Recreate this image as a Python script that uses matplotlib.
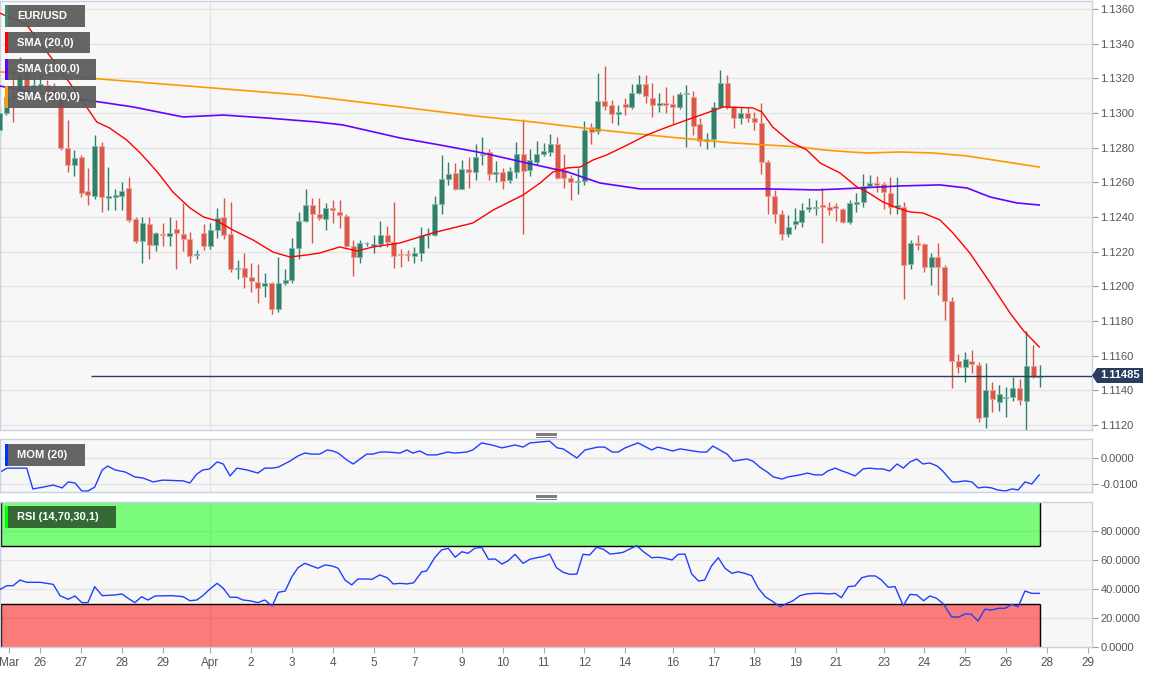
import numpy as np
import matplotlib
matplotlib.use('Agg')
import matplotlib.pyplot as plt
from matplotlib.patches import Rectangle, Polygon
from matplotlib.lines import Line2D

plt.rcParams['font.family'] = ['Liberation Sans', 'DejaVu Sans']

# 4h candles, EUR/USD
opens = [1.12902, 1.13000, 1.13104, 1.13121, 1.13237, 1.13150, 1.13156, 1.13162, 1.13133, 1.13087,
         1.12798, 1.12700, 1.12746, 1.12550, 1.12521, 1.12810, 1.12510, 1.12515, 1.12521, 1.12567,
         1.12388, 1.12261, 1.12360, 1.12238, 1.12302, 1.12290, 1.12331, 1.12302, 1.12273, 1.12181,
         1.12308, 1.12233, 1.12325, 1.12400, 1.12302, 1.12100, 1.12106, 1.12054, 1.12025, 1.12002,
         1.12019, 1.11869, 1.12019, 1.12036, 1.12221, 1.12377, 1.12469, 1.12417, 1.12388, 1.12452,
         1.12429, 1.12406, 1.12233, 1.12169, 1.12247, 1.12233, 1.12244, 1.12296, 1.12256, 1.12186,
         1.12184, 1.12175, 1.12192, 1.12296, 1.12296, 1.12475, 1.12619, 1.12654, 1.12562, 1.12677,
         1.12660, 1.12758, 1.12775, 1.12648, 1.12660, 1.12613, 1.12660, 1.12763, 1.12671, 1.12717,
         1.12763, 1.12775, 1.12821, 1.12671, 1.12625, 1.12602, 1.12608, 1.12919, 1.12896, 1.13069,
         1.13046, 1.12994, 1.13052, 1.13035, 1.13115, 1.13167, 1.13087, 1.13046, 1.13058, 1.13052,
         1.13035, 1.13110, 1.13092, 1.12937, 1.12838, 1.12850, 1.13035, 1.13173, 1.13035, 1.12971,
         1.13000, 1.12971, 1.12942, 1.12717, 1.12521, 1.12417, 1.12302, 1.12360, 1.12371, 1.12446,
         1.12452, 1.12469, 1.12458, 1.12463, 1.12446, 1.12371, 1.12475, 1.12487, 1.12579, 1.12596,
         1.12590, 1.12538, 1.12458, 1.12458, 1.12129, 1.12250, 1.12244, 1.12111, 1.12169, 1.12111,
         1.11915, 1.11569, 1.11534, 1.11569, 1.11546, 1.11246, 1.11402, 1.11333, 1.11358, 1.11361,
         1.11413, 1.11338, 1.11540, 1.11477]
highs = [1.13029, 1.13115, 1.13260, 1.13323, 1.13265, 1.13219, 1.13219, 1.13190, 1.13173, 1.13133,
         1.12960, 1.12787, 1.12758, 1.12683, 1.12873, 1.12833, 1.12688, 1.12562, 1.12602, 1.12631,
         1.12400, 1.12400, 1.12400, 1.12313, 1.12365, 1.12400, 1.12383, 1.12481, 1.12313, 1.12210,
         1.12360, 1.12365, 1.12452, 1.12510, 1.12487, 1.12152, 1.12192, 1.12135, 1.12129, 1.12077,
         1.12025, 1.12169, 1.12100, 1.12279, 1.12429, 1.12562, 1.12510, 1.12510, 1.12481, 1.12498,
         1.12498, 1.12417, 1.12267, 1.12267, 1.12256, 1.12296, 1.12377, 1.12348, 1.12487, 1.12215,
         1.12210, 1.12227, 1.12342, 1.12336, 1.12521, 1.12758, 1.12717, 1.12711, 1.12729, 1.12746,
         1.12821, 1.12862, 1.12792, 1.12723, 1.12683, 1.12688, 1.12833, 1.12965, 1.12792, 1.12838,
         1.12827, 1.12879, 1.12862, 1.12763, 1.12642, 1.12683, 1.12954, 1.12942, 1.13231, 1.13271,
         1.13075, 1.13046, 1.13087, 1.13167, 1.13219, 1.13219, 1.13173, 1.13115, 1.13150, 1.13104,
         1.13121, 1.13162, 1.13127, 1.12971, 1.12885, 1.13063, 1.13248, 1.13219, 1.13040, 1.13029,
         1.13029, 1.13006, 1.13058, 1.12729, 1.12556, 1.12440, 1.12412, 1.12452, 1.12481, 1.12510,
         1.12498, 1.12567, 1.12487, 1.12481, 1.12452, 1.12498, 1.12538, 1.12648, 1.12642, 1.12637,
         1.12602, 1.12631, 1.12631, 1.12487, 1.12267, 1.12296, 1.12250, 1.12192, 1.12250, 1.12123,
         1.11938, 1.11609, 1.11621, 1.11633, 1.11563, 1.11557, 1.11448, 1.11431, 1.11419, 1.11477,
         1.11465, 1.11742, 1.11661, 1.11546]
lows = [1.12873, 1.12988, 1.12948, 1.13115, 1.13121, 1.13133, 1.13133, 1.13115, 1.13035, 1.12787,
        1.12660, 1.12637, 1.12515, 1.12469, 1.12504, 1.12429, 1.12440, 1.12440, 1.12440, 1.12371,
        1.12250, 1.12135, 1.12158, 1.12204, 1.12233, 1.12233, 1.12100, 1.12204, 1.12135, 1.12158,
        1.12210, 1.12215, 1.12279, 1.12273, 1.12083, 1.12042, 1.11990, 1.11967, 1.11904, 1.11938,
        1.11840, 1.11852, 1.12008, 1.12019, 1.12158, 1.12371, 1.12250, 1.12383, 1.12325, 1.12365,
        1.12336, 1.12227, 1.12060, 1.12135, 1.12233, 1.12192, 1.12227, 1.12227, 1.12106, 1.12111,
        1.12146, 1.12135, 1.12146, 1.12221, 1.12290, 1.12417, 1.12585, 1.12556, 1.12562, 1.12567,
        1.12613, 1.12700, 1.12613, 1.12602, 1.12562, 1.12596, 1.12625, 1.12302, 1.12637, 1.12700,
        1.12752, 1.12752, 1.12619, 1.12567, 1.12498, 1.12533, 1.12585, 1.12821, 1.12879, 1.13017,
        1.12942, 1.12931, 1.12988, 1.13023, 1.13110, 1.13058, 1.12977, 1.13006, 1.13000, 1.12936,
        1.13023, 1.12804, 1.12873, 1.12810, 1.12792, 1.12804, 1.13029, 1.13023, 1.12913, 1.12936,
        1.12948, 1.12902, 1.12648, 1.12417, 1.12365, 1.12267, 1.12284, 1.12331, 1.12342, 1.12429,
        1.12412, 1.12250, 1.12412, 1.12377, 1.12365, 1.12360, 1.12429, 1.12458, 1.12573, 1.12544,
        1.12446, 1.12417, 1.12417, 1.11927, 1.12100, 1.12210, 1.12083, 1.12008, 1.11950, 1.11806,
        1.11413, 1.11500, 1.11448, 1.11500, 1.11217, 1.11182, 1.11275, 1.11281, 1.11246, 1.11338,
        1.11315, 1.11165, 1.11471, 1.11419]
closes = [1.13000, 1.13092, 1.13087, 1.13219, 1.13150, 1.13162, 1.13165, 1.13133, 1.13115, 1.12798,
          1.12700, 1.12740, 1.12538, 1.12527, 1.12810, 1.12515, 1.12521, 1.12527, 1.12550, 1.12383,
          1.12261, 1.12365, 1.12238, 1.12308, 1.12296, 1.12308, 1.12308, 1.12273, 1.12175, 1.12186,
          1.12233, 1.12325, 1.12394, 1.12296, 1.12100, 1.12106, 1.12054, 1.12031, 1.11990, 1.12019,
          1.11869, 1.12019, 1.12036, 1.12221, 1.12377, 1.12469, 1.12417, 1.12394, 1.12452, 1.12440,
          1.12412, 1.12233, 1.12169, 1.12250, 1.12250, 1.12244, 1.12296, 1.12256, 1.12175, 1.12181,
          1.12178, 1.12192, 1.12296, 1.12302, 1.12475, 1.12619, 1.12648, 1.12562, 1.12677, 1.12660,
          1.12746, 1.12763, 1.12648, 1.12660, 1.12608, 1.12665, 1.12763, 1.12665, 1.12729, 1.12763,
          1.12781, 1.12821, 1.12625, 1.12625, 1.12602, 1.12608, 1.12902, 1.12890, 1.13069, 1.13040,
          1.12994, 1.13006, 1.13035, 1.13115, 1.13167, 1.13098, 1.13046, 1.13058, 1.13046, 1.13035,
          1.13110, 1.13115, 1.12925, 1.12838, 1.12850, 1.13035, 1.13173, 1.13035, 1.12971, 1.13000,
          1.12971, 1.12948, 1.12717, 1.12521, 1.12417, 1.12302, 1.12342, 1.12377, 1.12440, 1.12458,
          1.12455, 1.12458, 1.12440, 1.12452, 1.12371, 1.12481, 1.12487, 1.12579, 1.12596, 1.12585,
          1.12544, 1.12458, 1.12469, 1.12123, 1.12250, 1.12238, 1.12111, 1.12169, 1.12111, 1.11915,
          1.11569, 1.11534, 1.11581, 1.11552, 1.11240, 1.11402, 1.11350, 1.11379, 1.11361, 1.11413,
          1.11344, 1.11540, 1.11477, 1.11485]
last_price = 1.11485

# moving averages, read at candle positions
sma20_x = [0, 4, 6.4, 8.2, 10, 11.8, 14.3, 16.2, 18.7, 20.7, 23.2, 25.5, 28, 30, 32, 34.3, 37.3, 40.2,
           42.7, 45.2, 47.1, 50, 52.6, 54.9, 58.9, 63.7, 69.6, 72.6, 77, 79.5, 81.4, 83.5, 85.4, 87.3,
           89.3, 92.3, 95.2, 98.2, 101.1, 104, 106.4, 110.8, 112.1, 113.7, 116.3, 118.7, 120.7, 123.6,
           126.1, 127.6, 129.9, 132, 133.9, 135.8, 138.3, 140.2, 142.7, 145.7, 148.6, 150.5, 152.9]
sma20_v = [1.13577, 1.13508, 1.13381, 1.13288, 1.13190, 1.13092, 1.12948, 1.12913, 1.12844, 1.12769,
           1.12660, 1.12544, 1.12452, 1.12400, 1.12377, 1.12325, 1.12267, 1.12198, 1.12169, 1.12181,
           1.12192, 1.12227, 1.12204, 1.12227, 1.12250, 1.12308, 1.12365, 1.12440, 1.12527, 1.12596,
           1.12660, 1.12683, 1.12688, 1.12729, 1.12758, 1.12815, 1.12873, 1.12919, 1.12960, 1.13000,
           1.13035, 1.13029, 1.13006, 1.12919, 1.12833, 1.12787, 1.12711, 1.12654, 1.12573, 1.12544,
           1.12487, 1.12452, 1.12429, 1.12423, 1.12383, 1.12308, 1.12192, 1.12019, 1.11846, 1.11748,
           1.11650]
sma100_x = [0, 3, 7.4, 14.8, 19.6, 27, 32.9, 39.3, 46.7, 50.5, 58.9, 64.8, 71.1, 77.6, 83.5, 88.3,
            94.2, 103, 112.9, 120.2, 126.5, 132.4, 138.3, 142.3, 145.7, 149.6, 152.9]
sma100_v = [1.13156, 1.13133, 1.13104, 1.13063, 1.13035, 1.12977, 1.12988, 1.12971, 1.12948, 1.12931,
            1.12856, 1.12815, 1.12769, 1.12711, 1.12660, 1.12596, 1.12562, 1.12562, 1.12562, 1.12556,
            1.12567, 1.12579, 1.12585, 1.12567, 1.12515, 1.12481, 1.12469]
sma200_x = [0, 7.4, 14.8, 22.1, 29.5, 44.2, 58.9, 68.7, 78.5, 88.3, 98.2, 107.9, 117.7, 121.1, 125.1,
            127.6, 132.4, 137.3, 142.3, 147.1, 152.9]
sma200_v = [1.13237, 1.13219, 1.13196, 1.13173, 1.13150, 1.13104, 1.13035, 1.12988, 1.12948, 1.12902,
            1.12862, 1.12827, 1.12804, 1.12787, 1.12775, 1.12769, 1.12775, 1.12769, 1.12752, 1.12723,
            1.12688]

mom_x = [0.1, 1.1, 4.0, 4.9, 6.4, 7.9, 9.2, 10.1, 11.1, 12.1, 13.0, 14.0, 15.1, 15.9, 17.0, 18.5,
         19.9, 21.1, 22.6, 24.0, 27.0, 28.0, 29.0, 29.9, 30.9, 32.0, 32.9, 33.9, 34.9, 36.4, 38.0,
         39.0, 40.1, 41.0, 42.7, 43.9, 44.9, 45.9, 47.1, 48.2, 49.0, 49.8, 51.1, 52.0, 53.0, 54.0,
         54.9, 56.0, 57.0, 58.9, 59.9, 60.8, 61.8, 62.9, 64.3, 65.9, 67.0, 68.7, 69.6, 70.9, 72.4,
         73.9, 75.8, 77.0, 78.0, 80.9, 82.0, 82.9, 84.9, 86.1, 88.0, 89.0, 90.1, 91.0, 92.0, 93.9,
         95.9, 96.8, 97.9, 99.0, 100.1, 101.1, 102.0, 103.0, 104.0, 104.9, 107.0, 107.9, 109.9,
         110.8, 111.8, 112.9, 113.8, 115.1, 115.9, 117.7, 118.8, 119.9, 121.0, 121.8, 122.9, 123.9,
         124.8, 125.8, 127.0, 128.0, 129.0, 129.9, 130.9, 132.0, 132.9, 133.9, 134.9, 135.8, 136.8,
         137.9, 138.7, 140.1, 140.9, 142.0, 143.0, 143.9, 144.9, 145.9, 146.8, 147.9, 148.9, 149.8,
         150.8, 151.8, 152.9]
mom_v = [-0.0054, -0.0039, -0.0039, -0.0119, -0.0112, -0.0104, -0.0115, -0.0092, -0.0096, -0.0127,
         -0.0127, -0.0112, -0.0046, -0.0031, -0.0046, -0.0054, -0.0073, -0.0077, -0.0092, -0.0085,
         -0.0088, -0.0096, -0.0062, -0.0046, -0.0042, -0.0015, -0.0023, -0.0069, -0.0039, -0.0046,
         -0.0058, -0.0039, -0.0039, -0.0035, -0.0012, 0.0008, 0.0019, 0.0015, 0.0015, 0.0031,
         0.0027, 0.0019, -0.0008, -0.0023, -0.0004, 0.0015, 0.0015, 0.0023, 0.0023, 0.0019,
         0.0031, 0.0019, 0.0027, 0.0012, 0.0012, 0.0023, 0.0019, 0.0023, 0.0031, 0.0058,
         0.0050, 0.0039, 0.0050, 0.0042, 0.0058, 0.0065, 0.0039, 0.0035, 0.0000, 0.0031,
         0.0042, 0.0042, 0.0023, 0.0023, 0.0039, 0.0058, 0.0031, 0.0042, 0.0035, 0.0027,
         0.0035, 0.0031, 0.0027, 0.0023, 0.0023, 0.0046, 0.0015, -0.0012, -0.0004, -0.0012,
         -0.0035, -0.0054, -0.0073, -0.0081, -0.0073, -0.0065, -0.0058, -0.0065, -0.0065, -0.0050,
         -0.0039, -0.0050, -0.0058, -0.0069, -0.0042, -0.0039, -0.0042, -0.0042, -0.0050, -0.0023,
         -0.0039, -0.0015, -0.0004, -0.0023, -0.0019, -0.0031, -0.0050, -0.0092, -0.0092, -0.0088,
         -0.0092, -0.0115, -0.0112, -0.0115, -0.0123, -0.0127, -0.0119, -0.0123, -0.0092, -0.0100,
         -0.0065]

rsi_x = [0.1, 1.1, 2.0, 3.0, 4.0, 6.0, 7.9, 8.9, 10.1, 11.1, 12.1, 13.0, 14.0, 15.1, 17.0, 18.0,
         18.9, 19.9, 20.9, 21.8, 22.9, 25.4, 27.0, 28.0, 29.0, 29.9, 30.9, 32.0, 32.9, 33.9, 34.9,
         35.8, 36.8, 38.0, 39.0, 40.1, 41.0, 42.0, 43.0, 43.9, 44.9, 45.9, 46.8, 47.9, 48.9, 49.8,
         50.8, 51.8, 52.7, 53.7, 54.8, 55.9, 57.0, 57.9, 58.9, 59.9, 60.9, 62.1, 62.8, 64.0, 65.0,
         66.0, 67.0, 68.0, 68.9, 69.9, 70.9, 71.9, 72.9, 73.9, 74.8, 75.8, 77.0, 78.0, 79.0, 79.9,
         80.9, 81.9, 82.9, 83.9, 84.9, 85.8, 86.8, 87.8, 88.8, 89.8, 90.8, 91.7, 92.7, 93.7, 94.7,
         95.9, 96.9, 97.9, 98.9, 99.8, 100.8, 101.8, 102.8, 103.7, 104.7, 105.7, 106.7, 107.7,
         108.6, 109.6, 110.6, 111.6, 112.6, 113.6, 114.8, 115.8, 116.7, 117.7, 118.7, 119.9, 120.9,
         121.9, 122.9, 123.8, 124.8, 125.8, 126.8, 127.8, 128.8, 129.7, 130.7, 131.7, 132.9, 133.9,
         134.9, 135.9, 136.8, 137.8, 138.8, 140.0, 141.0, 142.0, 142.9, 143.9, 144.9, 145.9, 146.9,
         147.9, 148.8, 149.8, 150.8, 151.8, 152.9]
rsi_v = [39.8, 42.3, 42.3, 46.2, 44.6, 44.6, 43.2, 35.4, 32.9, 35.2, 30.6, 30.6, 41.6, 35.4, 35.9,
         36.6, 33.6, 30.6, 34.7, 32.4, 35.2, 35.4, 34.7, 31.9, 32.4, 35.4, 39.8, 43.9, 40.5, 34.3,
         34.3, 32.4, 31.9, 30.6, 32.4, 28.3, 37.7, 38.6, 48.5, 54.7, 57.7, 55.9, 54.3, 56.6, 55.9,
         54.3, 46.2, 42.8, 46.9, 46.9, 46.7, 49.7, 47.8, 43.5, 43.9, 43.5, 44.3, 51.9, 52.4, 61.6,
         66.9, 68.1, 61.9, 65.7, 64.6, 68.1, 68.8, 60.5, 60.7, 57.2, 59.5, 63.9, 57.7, 60.5, 61.6,
         62.3, 64.1, 54.7, 51.5, 50.1, 50.3, 63.9, 63.5, 68.8, 67.4, 64.1, 64.6, 65.3, 67.6, 69.9,
         65.7, 61.6, 61.9, 61.2, 60.0, 63.9, 64.1, 50.3, 45.5, 46.2, 55.9, 61.6, 54.3, 50.8, 51.9,
         50.8, 49.2, 40.5, 34.7, 31.7, 27.8, 30.1, 31.9, 35.4, 36.6, 37.0, 37.0, 36.6, 37.0, 34.0,
         41.6, 42.1, 47.8, 49.0, 49.0, 46.2, 41.2, 41.6, 28.5, 36.3, 35.9, 31.9, 35.2, 33.6, 29.7,
         20.9, 20.5, 22.8, 22.6, 17.9, 26.0, 25.5, 26.7, 26.7, 29.4, 27.8, 38.6, 37.0, 37.0]

tick_pos = [1.4, 6, 12, 18, 24, 31, 37, 43, 49, 55, 61, 68, 74, 80, 86, 92, 99, 105, 111, 117,
            123, 130, 136, 142, 148, 154, 160]
tick_labels = ['Mar', '26', '27', '28', '29', 'Apr', '2', '3', '4', '5', '7', '9', '10', '11', '12',
               '14', '16', '17', '18', '19', '21', '23', '24', '25', '26', '28', '29']

W, H = 1163, 674
UP, DOWN = '#2f7f6b', '#d8584a'
UP_EDGE, DOWN_EDGE = '#86b9aa', '#eba398'
SPINE = '#c9d1e4'
GRID = '#e4e4e4'


def fx(x):
    return x / W


def fy(y):
    return 1 - y / H


fig = plt.figure(figsize=(W / 100, H / 100), dpi=100)
fig.patch.set_facecolor('white')

ax = fig.add_axes([0, fy(430), fx(1092), 429 / H])
axm = fig.add_axes([0, fy(492), fx(1092), 53 / H])
axr = fig.add_axes([0, fy(647), fx(1092), 145 / H])

for a in (ax, axm, axr):
    a.set_facecolor('#f7f7f7')
    a.set_xlim(0.07, 160.66)
    a.set_axisbelow(True)
    a.grid(axis='y', color=GRID, lw=1)
    a.axvline(31, color=GRID, lw=1, zorder=0.5)
    for s in a.spines.values():
        s.set_color(SPINE)
        s.set_linewidth(1)
    a.yaxis.tick_right()
    a.tick_params(axis='y', length=4, width=0.8, color='#999999', labelcolor='#555555',
                  labelsize=8, pad=2)

# price panel
idx = np.arange(len(opens))
o = np.array(opens)
c = np.array(closes)
hi = np.array(highs)
lo = np.array(lows)
up = c >= o
body_lo = np.minimum(o, c)
body_h = np.maximum(np.abs(c - o), 0.00005)

for mask, col, edge in ((up, UP, UP_EDGE), (~up, DOWN, DOWN_EDGE)):
    ax.vlines(idx[mask], lo[mask], hi[mask], color=col, lw=1, zorder=2)
    ax.bar(idx[mask], body_h[mask], bottom=body_lo[mask], width=0.72, color=col,
           edgecolor=edge, linewidth=0.6, zorder=3)

ax.plot(sma200_x, sma200_v, color='#ff9900', lw=1.2, zorder=4)
ax.plot(sma100_x, sma100_v, color='#6a00ff', lw=1.2, zorder=4)
ax.plot(sma20_x, sma20_v, color='#ff0000', lw=1, zorder=4)
ax.hlines(last_price, 13.5, 160.66, color='#2c3e5c', lw=1, zorder=5)

ax.set_ylim(1.11171, 1.13646)
ax.set_yticks(np.arange(1.112, 1.1361, 0.002))
ax.yaxis.set_major_formatter(matplotlib.ticker.FormatStrFormatter('%.4f'))
ax.tick_params(axis='x', bottom=False, labelbottom=False)

# momentum panel
axm.plot(mom_x, mom_v, color='#1f3fff', lw=1)
axm.set_ylim(-0.01308, 0.00731)
axm.set_yticks([-0.01, 0.0])
axm.yaxis.set_major_formatter(matplotlib.ticker.FormatStrFormatter('%.4f'))
axm.tick_params(axis='x', bottom=False, labelbottom=False)

# rsi panel
x_end = idx[-1]
axr.add_patch(Rectangle((0.07, 70), x_end - 0.07, 30, facecolor='#00ff00', alpha=0.5,
                        edgecolor='none', zorder=1))
axr.add_patch(Rectangle((0.07, 0), x_end - 0.07, 30, facecolor='#ff0000', alpha=0.5,
                        edgecolor='none', zorder=1))
axr.hlines([70, 30], 0.07, x_end, color='black', lw=1, zorder=2)
axr.vlines([x_end, x_end], [70, 0], [100, 30], color='black', lw=1, zorder=2)
axr.vlines([0.2, 0.2], [70, 0], [100, 30], color='black', lw=1, zorder=2)
axr.plot(rsi_x, rsi_v, color='#1f3fff', lw=1, zorder=3)
axr.set_ylim(0, 100)
axr.set_yticks([0, 20, 40, 60, 80])
axr.yaxis.set_major_formatter(matplotlib.ticker.FormatStrFormatter('%.4f'))
axr.set_xticks(tick_pos)
axr.set_xticklabels(tick_labels)
axr.tick_params(axis='x', length=4, width=0.8, color='#aaaaaa', labelcolor='#555555',
                labelsize=8.5, pad=3)


# indicator name boxes
def name_box(x0, y0, x1, y1, stripe, text, face='#5a5a5a'):
    fig.add_artist(Rectangle((fx(x0), fy(y1)), (x1 - x0) / W, (y1 - y0) / H,
                             transform=fig.transFigure, facecolor=face, alpha=0.93,
                             edgecolor='none', zorder=10))
    fig.add_artist(Rectangle((fx(x0), fy(y1)), 3 / W, (y1 - y0) / H,
                             transform=fig.transFigure, facecolor=stripe,
                             edgecolor='none', zorder=11))
    fig.text(fx(17), fy((y0 + y1) / 2), text, color='white', fontsize=8, fontweight='bold',
             ha='left', va='center', zorder=12)


name_box(5, 5, 85, 27, '#3a8c73', 'EUR/USD')
name_box(5, 32, 90, 53, '#ff0000', 'SMA (20,0)')
name_box(5, 59, 96, 80, '#6600ff', 'SMA (100,0)')
name_box(5, 86, 96, 108, '#ff9900', 'SMA (200,0)')
name_box(5, 444, 85, 466, '#0033ff', 'MOM (20)')
name_box(5, 506, 116, 528, '#00ff00', 'RSI (14,70,30,1)', face='#2f5e2f')

# last price tag
tag = [(1092, 375.5), (1097, 368), (1143, 368), (1143, 383), (1097, 383)]
fig.add_artist(Polygon([(fx(x), fy(y)) for x, y in tag], closed=True, transform=fig.transFigure,
                       facecolor='#2b3d5e', edgecolor='none', zorder=10))
fig.text(fx(1120), fy(375.5), '1.11485', color='white', fontsize=8, fontweight='bold',
         ha='center', va='center', zorder=11)

# panel resize grips
for base in (432.5, 494.5):
    for k in range(4):
        yy = fy(base + k * 1.4)
        fig.add_artist(Line2D([fx(536), fx(556)], [yy, yy], transform=fig.transFigure,
                              color='#7a7a7a', lw=0.7, zorder=10))

fig.savefig('out.png', dpi=100, facecolor='white')
